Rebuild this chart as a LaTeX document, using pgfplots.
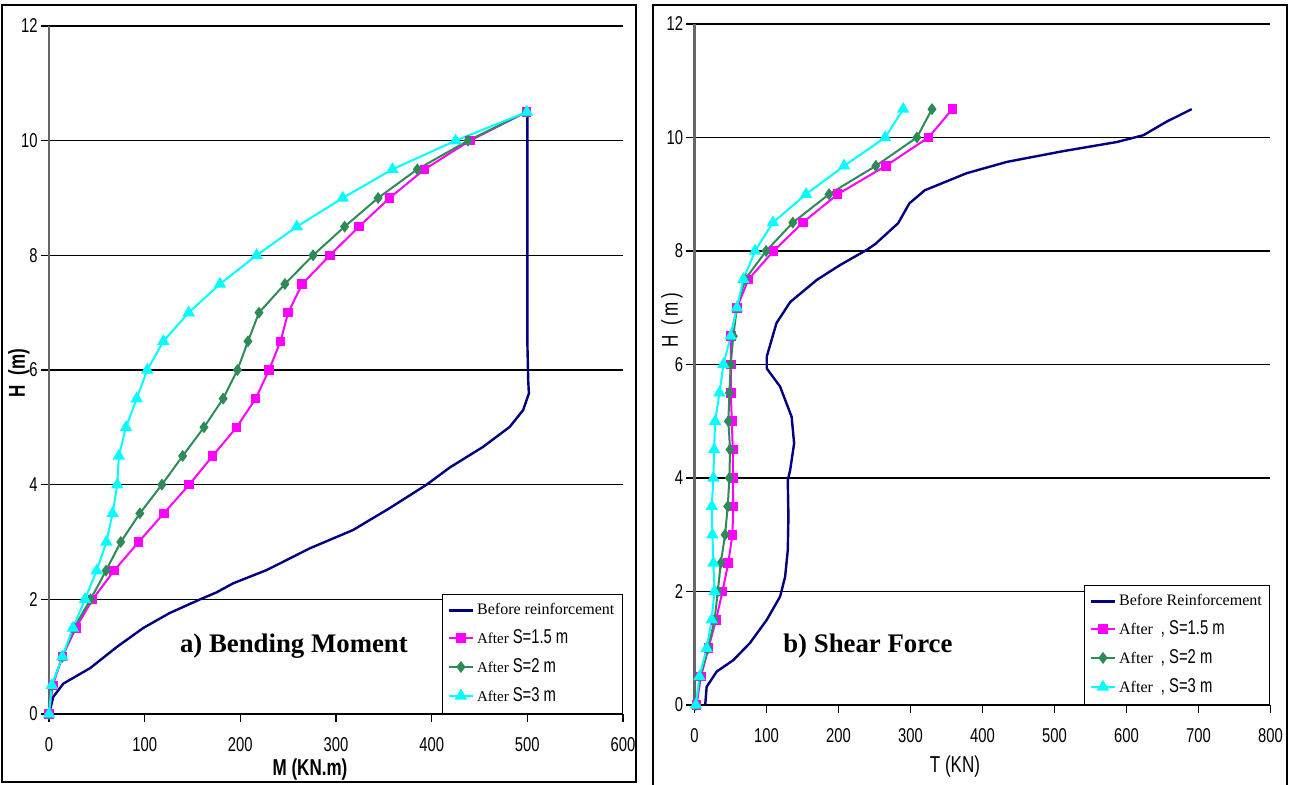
\documentclass[border=0pt]{standalone}
\usepackage{fontspec}
\usepackage{pgfplots}
\pgfplotsset{compat=1.18}
\setmainfont{Liberation Serif}
\newfontfamily\nar[FakeStretch=0.74]{Liberation Sans}
\definecolor{navyc}{RGB}{0,0,128}
\definecolor{pinkc}{RGB}{255,0,255}
\definecolor{greenc}{RGB}{46,139,87}
\definecolor{cyanc}{RGB}{0,255,255}

\pgfplotstableread{
x y
0 0
4 0.5
14 1
28 1.5
45.6 2
68 2.5
93.7 3
120 3.5
146.6 4
171 4.5
196 5
216 5.5
230 6
242 6.5
250 7
264.7 7.5
293.6 8
324 8.5
356 9
392.6 9.5
440 10
499 10.5
}\Lpink
\pgfplotstableread{
x y
0 0
3 0.5
14 1
26 1.5
43.5 2
59.6 2.5
75 3
95 3.5
118 4
139.7 4.5
162 5
182 5.5
197 6
208 6.5
219.5 7
246.6 7.5
276 8
309 8.5
344 9
385 9.5
438 10
499 10.5
}\Lgreen
\pgfplotstableread{
x y
0 0
3 0.5
14 1
25 1.5
37.6 2
49.8 2.5
60 3
66.5 3.5
71.4 4
73 4.5
80.5 5
91.6 5.5
102.7 6
119.5 6.5
146 7
178.7 7.5
217 8
259 8.5
307 9
359 9.5
425 10
499.5 10.5
}\Lcyan
\pgfplotstableread{
x y
0 0
4.5 0.3
15 0.53
43 0.8
71 1.17
98.5 1.5
126 1.76
158 2.0
175 2.12
192.6 2.28
227.5 2.51
272.7 2.89
318 3.21
356 3.59
394.7 4.0
419 4.3
453.8 4.66
481.7 5.01
495.6 5.3
501.6 5.59
500.9 5.83
500 6.5
500 10.5
}\Lnavy

\pgfplotstableread{
x y
3 0
9 0.5
19.5 1
30 1.5
39 2
47 2.5
52.8 3
54 3.5
53.3 4
53.3 4.5
52 5
50.5 5.5
50.5 6
50.5 6.5
59 7
75 7.5
110 8
150.5 8.5
199 9
265.8 9.5
325 10
358.4 10.5
}\Rpink
\pgfplotstableread{
x y
2 0
8 0.5
19 1
28 1.5
32.5 2
36.6 2.5
42.6 3
46.3 3.5
48.6 4
49.5 4.5
47.2 5
48.6 5.5
50.5 6
54 6.5
59 7
70.4 7.5
99.6 8
136.7 8.5
187 9
252 9.5
309 10
330 10.5
}\Rgreen
\pgfplotstableread{
x y
2 0
7 0.5
17 1
24 1.5
27.8 2
26.4 2.5
25 3
24.1 3.5
26.4 4
27.4 4.5
28.8 5
34.8 5.5
40.3 6
50.5 6.5
59 7
68 7.5
84.3 8
109 8.5
155 9
208 9.5
265 10
290 10.5
}\Rcyan
\pgfplotstableread{
x y
15 0
17 0.32
31 0.59
54 0.79
77 1.09
100.5 1.5
119 1.91
126 2.26
129.7 2.73
130.6 3.32
129.7 3.96
133 4.14
138.5 4.61
135 5.08
119 5.61
100.5 5.93
100.5 6.14
114 6.73
133 7.1
170 7.49
202 7.75
239.4 8.02
251 8.12
283 8.49
298.6 8.84
320 9.07
378 9.37
434 9.57
512.5 9.76
586.7 9.92
623.6 10.04
656 10.28
690.8 10.5
}\Rnavy

\pgfplotsset{
  panel/.style={
    scale only axis,
    axis lines=left,
    axis line style={-},
    x axis line style={black, line width=0.9pt},
    y axis line style={black!60, line width=1.3pt},
    ymin=0, ymax=12, ytick={0,2,...,12},
    ymajorgrids,
    grid style={black, line width=0.6pt},
    tick align=outside,
    major tick length=4pt,
    tick style={black, line width=0.6pt},
    /pgf/number format/assume math mode=true,
    ticklabel style={font=\nar\fontsize{10}{11}\selectfont},
    xticklabel style={yshift=-4pt},
    yticklabel style={inner sep=1pt, xshift=-0.5pt},
    legend cell align=left,
    legend image code/.code={
      \draw[mark repeat=2,mark phase=2,##1] plot coordinates {(0pt,0pt) (6pt,0pt) (12pt,0pt)};},
    legend style={at={(1,0)}, anchor=south east, draw=black, line width=0.6pt,
      font=\fontsize{8}{9}\selectfont, row sep=2pt, inner sep=2.5pt,
      nodes={inner xsep=1.5pt}},
    clip=false,
  },
  pk/.style={pinkc, line width=1pt, mark=square*, mark size=1.9pt, mark options={solid}},
  gr/.style={greenc, line width=1pt, mark=diamond*, mark size=2.2pt, mark options={solid}},
  cy/.style={cyanc, line width=1pt, mark=triangle*, mark size=2.6pt, mark options={solid}},
  nv/.style={navyc, line width=1.2pt, no marks},
}

\begin{document}
\begin{tikzpicture}[x=1pt,y=1pt]
\useasboundingbox (0,0) rectangle (644.5,392.5);
\draw[black, line width=0.8pt] (1,1.5) rectangle (318,390);
\draw[black, line width=0.8pt] (326.5,-2) rectangle (643.5,390);

\begin{axis}[panel, at={(24.5pt,35.5pt)}, anchor=south west,
  width=287pt, height=344pt,
  xmin=0, xmax=600, xtick={0,100,...,600}]
\addplot[nv] table {\Lnavy};
\addlegendentry{Before reinforcement}
\addplot[pk] table {\Lpink};
\addlegendentry{{\fontsize{7.5}{9}\selectfont After}\ {\nar\fontsize{10}{10}\selectfont S=1.5 m}}
\addplot[gr] table {\Lgreen};
\addlegendentry{{\fontsize{7.5}{9}\selectfont After}\ {\nar\fontsize{10}{10}\selectfont S=2 m}}
\addplot[cy] table {\Lcyan};
\addlegendentry{{\fontsize{7.5}{9}\selectfont After}\ {\nar\fontsize{10}{10}\selectfont S=3 m}}
\node[font=\bfseries\fontsize{13.4}{15}\selectfont] at (axis cs:256,1.19) {a) Bending Moment};
\end{axis}

\begin{axis}[panel, at={(347.2pt,40pt)}, anchor=south west,
  width=288pt, height=340.5pt,
  xmin=0, xmax=800, xtick={0,100,...,800}]
\addplot[nv] table {\Rnavy};
\addlegendentry{Before Reinforcement}
\addplot[pk] table {\Rpink};
\addlegendentry{{\fontsize{8}{9}\selectfont After}\ \ {\nar\fontsize{10}{10}\selectfont , S=1.5 m}}
\addplot[gr] table {\Rgreen};
\addlegendentry{{\fontsize{8}{9}\selectfont After}\ \ {\nar\fontsize{10}{10}\selectfont , S=2 m}}
\addplot[cy] table {\Rcyan};
\addlegendentry{{\fontsize{8}{9}\selectfont After}\ \ {\nar\fontsize{10}{10}\selectfont , S=3 m}}
\node[font=\bfseries\fontsize{13.4}{15}\selectfont] at (axis cs:241,1.04) {b) Shear Force};
\end{axis}

\node[font=\nar\bfseries\fontsize{11.5}{12}\selectfont] at (155,7.5) {M (KN.m)};
\node[font=\nar\bfseries\fontsize{11.5}{12}\selectfont, rotate=90] at (9.5,206) {H\ \ (m)};
\node[font=\nar\fontsize{11.5}{12}\selectfont] at (477.5,9) {T (KN)};
\node[font=\nar\fontsize{11.5}{12}\selectfont, rotate=90] at (336,232.5) {H\ \ (\,m\,)};
\end{tikzpicture}
\end{document}
